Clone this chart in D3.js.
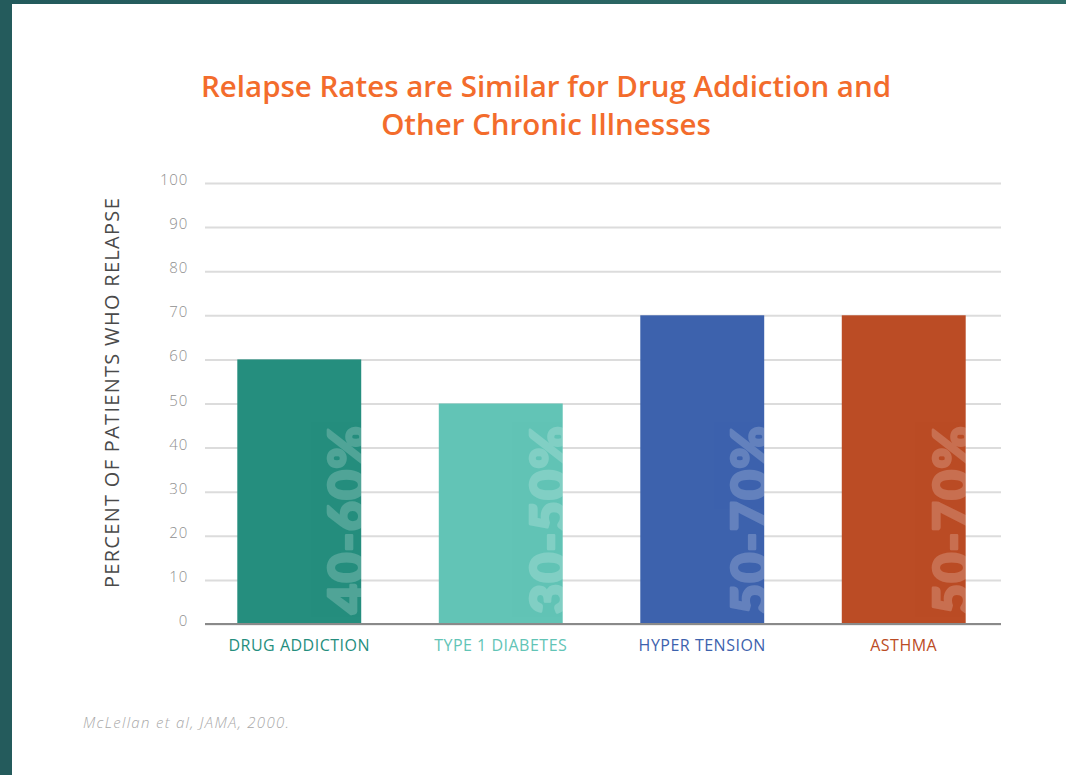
<!DOCTYPE html>
<html>
<head>
<meta charset="utf-8">
<script src="https://cdn.jsdelivr.net/npm/d3@7"></script>
<style>
  body { margin: 0; background: #fff; }
  svg { display: block; }
</style>
</head>
<body>
<div id="chart"></div>
<script>
const categories = ['DRUG ADDICTION', 'TYPE 1 DIABETES', 'HYPER TENSION', 'ASTHMA'];
const values = [60, 50, 70, 70];
const rangeLabels = ['40-60%', '30-50%', '50-70%', '50-70%'];
const colors = ['#258e7e', '#62c4b6', '#3d62ad', '#bb4c25'];
const yTicks = [0, 10, 20, 30, 40, 50, 60, 70, 80, 90, 100];

const width = 1066, height = 775;
const font = '"Open Sans", sans-serif';

const svg = d3.select('#chart')
    .append('svg')
    .attr('width', width)
    .attr('height', height);

// teal frame on left and top
const defs = svg.append('defs');
const grad = defs.append('linearGradient')
    .attr('id', 'frame').attr('x1', 0).attr('x2', 1);
grad.append('stop').attr('offset', 0).attr('stop-color', '#235a5c');
grad.append('stop').attr('offset', 1).attr('stop-color', '#2f6d68');
svg.append('rect').attr('x', 0).attr('y', 0).attr('width', width).attr('height', 4).attr('fill', 'url(#frame)');
svg.append('rect').attr('x', 0).attr('y', 0).attr('width', 12).attr('height', height).attr('fill', '#245b5c');

const x = d3.scaleBand()
    .domain(categories)
    .range([197, 1006])
    .paddingInner(0.385)
    .paddingOuter(0.2);

const y = d3.scaleLinear()
    .domain([0, 100])
    .range([624, 183]);

// title
svg.append('text')
    .attr('x', 546).attr('y', 0)
    .attr('text-anchor', 'middle')
    .style('font-family', font)
    .style('font-weight', 600)
    .style('font-size', '29.5px')
    .attr('fill', '#f36c2c')
    .selectAll('tspan')
    .data(['Relapse Rates are Similar for Drug Addiction and', 'Other Chronic Illnesses'])
    .join('tspan')
    .attr('x', 546)
    .attr('y', (d, i) => 97 + i * 38)
    .text(d => d);

// gridlines + y labels
const yAxis = svg.append('g')
    .attr('transform', 'translate(205,0)')
    .call(d3.axisLeft(y).tickValues(yTicks).tickSize(-796).tickPadding(17));
yAxis.select('.domain').remove();
yAxis.selectAll('.tick line').attr('stroke', '#dcdcdc').attr('stroke-width', 2);
yAxis.selectAll('.tick text')
    .attr('fill', '#8f8f8f')
    .attr('dy', '0.1em')
    .style('font-family', font)
    .style('font-weight', 300)
    .style('font-size', '15px')
    .style('letter-spacing', '0.8px');

// y title
svg.append('text')
    .attr('transform', 'translate(119,' + (y(50) - 11) + ') rotate(-90)')
    .attr('text-anchor', 'middle')
    .style('font-family', font)
    .style('font-weight', 400)
    .style('font-size', '20px')
    .style('letter-spacing', '1.3px')
    .attr('fill', '#4a4a4a')
    .text('PERCENT OF PATIENTS WHO RELAPSE');

categories.forEach((c, i) => {
    defs.append('clipPath').attr('id', 'clip' + i)
        .append('rect')
        .attr('x', x(c)).attr('y', y(values[i]))
        .attr('width', x.bandwidth()).attr('height', y(0) - y(values[i]));
});

// bars
svg.append('g').selectAll('rect')
    .data(categories)
    .join('rect')
    .attr('x', d => x(d))
    .attr('y', (d, i) => y(values[i]))
    .attr('width', x.bandwidth())
    .attr('height', (d, i) => y(0) - y(values[i]))
    .attr('fill', (d, i) => colors[i]);

// ghost range labels inside bars
svg.append('g').selectAll('g')
    .data(categories)
    .join('g')
    .attr('clip-path', (d, i) => 'url(#clip' + i + ')')
    .append('g')
    .attr('opacity', 0.2)
    .append('text')
    .attr('transform', d => 'translate(' + (x(d) + x.bandwidth() + 4) + ',' + (y(0) - 10) + ') rotate(-90)')
    .style('font-family', 'Lato')
    .style('font-weight', 900)
    .style('font-size', '52px')
    .style('letter-spacing', '1px')
    .attr('fill', '#ffffff')
    .attr('stroke', '#ffffff')
    .attr('stroke-width', 2.5)
    .attr('stroke-linejoin', 'round')
    .text((d, i) => rangeLabels[i]);

// baseline axis
svg.append('line')
    .attr('x1', 205).attr('x2', 1001)
    .attr('y1', y(0)).attr('y2', y(0))
    .attr('stroke', '#8a8a8a').attr('stroke-width', 2);

// category labels
svg.append('g').selectAll('text')
    .data(categories)
    .join('text')
    .attr('x', d => x(d) + x.bandwidth() / 2)
    .attr('y', 651)
    .attr('text-anchor', 'middle')
    .style('font-family', font)
    .style('font-weight', 400)
    .style('font-size', '16px')
    .style('letter-spacing', '0.5px')
    .attr('fill', (d, i) => colors[i])
    .text(d => d);

// source
svg.append('text')
    .attr('x', 83).attr('y', 728)
    .style('font-family', font)
    .style('font-style', 'italic')
    .style('font-weight', 300)
    .style('font-size', '15px')
    .style('letter-spacing', '1.3px')
    .attr('fill', '#a8a8a8')
    .text('McLellan et al, JAMA, 2000.');
</script>
</body>
</html>
